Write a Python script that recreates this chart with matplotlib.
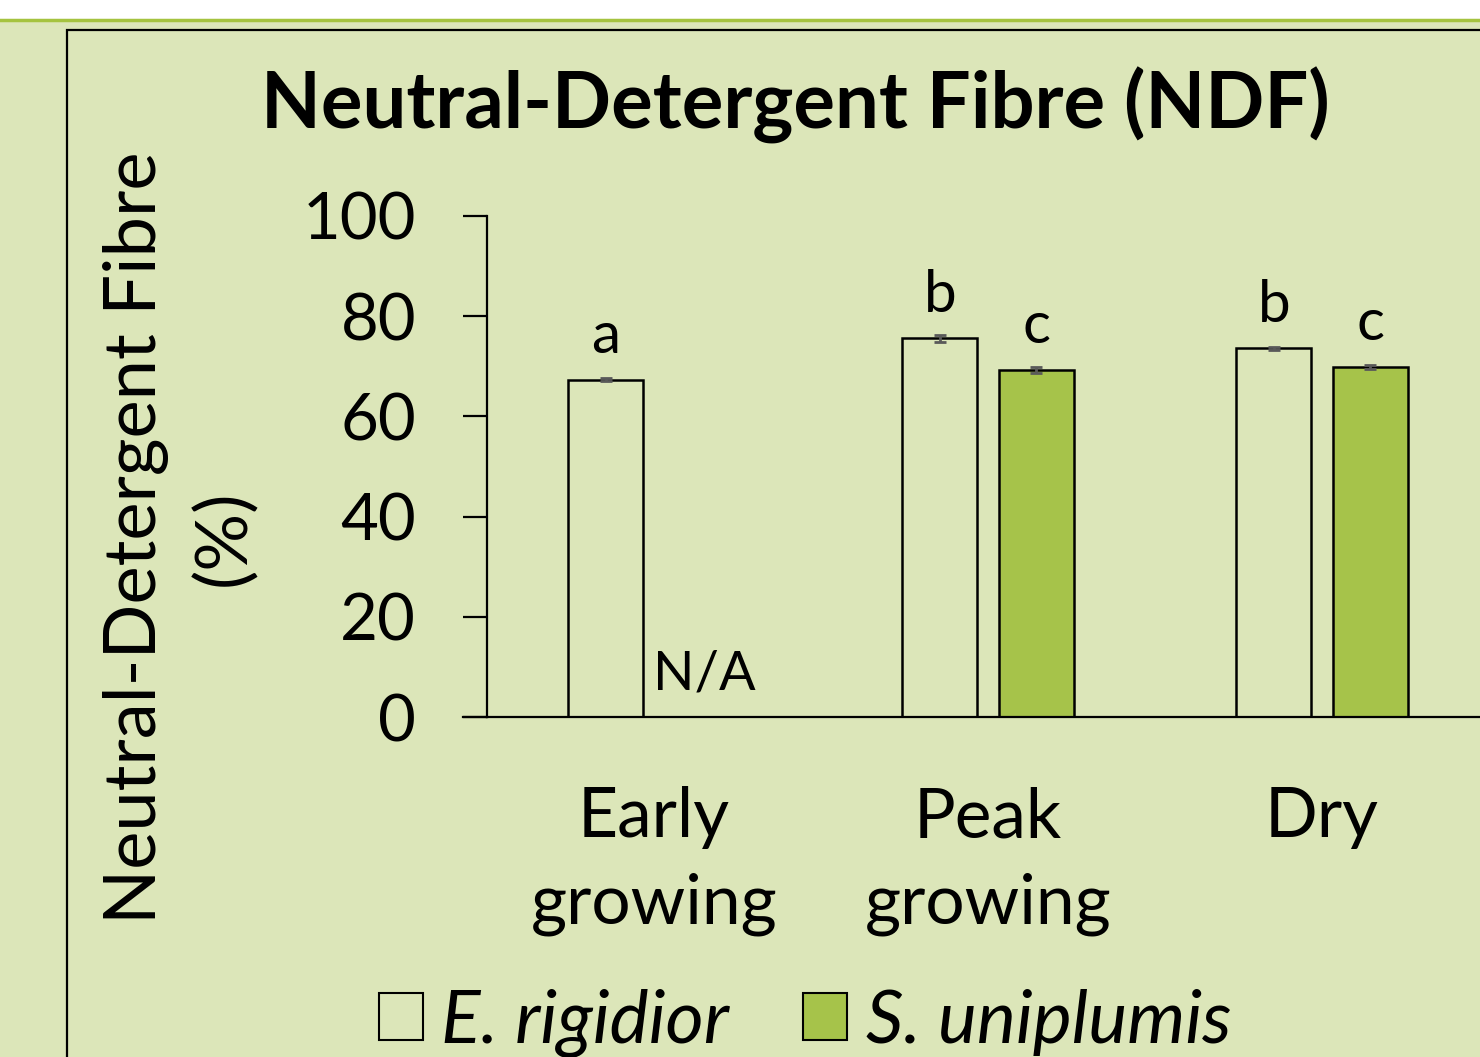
import numpy as np
import matplotlib.pyplot as plt
from matplotlib.patches import Patch, Rectangle
from matplotlib.lines import Line2D

categories = ["Early\ngrowing", "Peak\ngrowing", "Dry"]
e_rigidior = [67.3, 75.6, 73.6]
e_err = [0.3, 0.7, 0.3]
s_uniplumis = [np.nan, 69.3, 69.9]
s_err = [np.nan, 0.6, 0.4]
e_letters = ["a", "b", "b"]
s_letters = [None, "c", "c"]

BG = "#dce6b9"
GREEN = "#a6c34a"
W, H = 1480, 1057


def main():
    plt.rcParams['font.family'] = ['Lato', 'DejaVu Sans']
    fig = plt.figure(figsize=(W / 100, H / 100), dpi=100, facecolor=BG)

    # white strip at top with green rule, black frame around the chart
    fig.patches.append(Rectangle((0, 1 - 19 / H), 1, 19 / H, transform=fig.transFigure,
                                 facecolor="white", edgecolor="none", zorder=0))
    fig.lines.append(Line2D([0, 1], [1 - 20 / H, 1 - 20 / H], transform=fig.transFigure,
                            color="#a5c33f", lw=2.5))
    fig.patches.append(Rectangle((67 / W, -0.1), 1.2, 1 - 30 / H + 0.1, transform=fig.transFigure,
                                 facecolor="none", edgecolor="black", lw=1.6, zorder=1))

    ax = fig.add_axes([487 / W, 1 - 717 / H, 1002 / W, 501 / H])
    ax.set_facecolor("none")
    x = np.arange(len(categories))
    bw = 0.225
    off = 0.144
    ax.bar(x - off, e_rigidior, bw, facecolor="none", edgecolor="black", lw=1.8,
           yerr=e_err, error_kw=dict(ecolor="#595959", capsize=4, elinewidth=2, capthick=2))
    ax.bar(x + off, s_uniplumis, bw, facecolor=GREEN, edgecolor="black", lw=1.8,
           yerr=s_err, error_kw=dict(ecolor="#595959", capsize=4, elinewidth=2, capthick=2))

    for i in range(len(categories)):
        ax.text(x[i] - off, e_rigidior[i] + 5.3, e_letters[i], ha="center", va="baseline", fontsize=42)
        if s_letters[i]:
            ax.text(x[i] + off, s_uniplumis[i] + 5.3, s_letters[i], ha="center", va="baseline", fontsize=42)
    ax.text(x[0] - 0.003, 5.4, "N/A", ha="left", va="baseline", fontsize=39)

    ax.set_xlim(-0.5, 2.5)
    ax.set_ylim(0, 100)
    ax.set_yticks([0, 20, 40, 60, 80, 100])
    ax.tick_params(axis="y", length=17, width=1.6, pad=34, labelsize=47, direction="out")
    ax.set_xticks(x)
    ax.set_xticklabels(categories, fontsize=50, linespacing=1.45)
    ax.tick_params(axis="x", length=0, pad=50)
    for s in ["top", "right"]:
        ax.spines[s].set_visible(False)
    ax.spines["left"].set_linewidth(1.6)
    ax.spines["bottom"].set_linewidth(1.6)
    # extend x axis line to left tick end
    ax.plot([-0.5 - 24 / 334, -0.5], [0, 0], color="black", lw=1.6, clip_on=False)

    fig.text(795 / W, 1 - 105 / H, "Neutral-Detergent Fibre (NDF)", ha="center", va="center",
             fontsize=56, fontweight="bold")
    fig.text(180 / W, 1 - 538 / H, "Neutral-Detergent Fibre\n(%)", ha="center", va="center",
             rotation=90, fontsize=52, linespacing=1.4)

    handles = [Patch(facecolor="none", edgecolor="black", lw=1.5, label="E. rigidior"),
               Patch(facecolor=GREEN, edgecolor="black", lw=1.5, label="S. uniplumis")]
    fig.legend(handles=handles, loc="center", bbox_to_anchor=(805 / W, 1 - 1023 / H),
               ncol=2, frameon=False, prop=dict(size=53, style="italic"),
               handlelength=0.6, handleheight=0.6, handletextpad=0.25, columnspacing=1.0)

    fig.savefig("out.png", dpi=100, facecolor=BG)


if __name__ == "__main__":
    main()
